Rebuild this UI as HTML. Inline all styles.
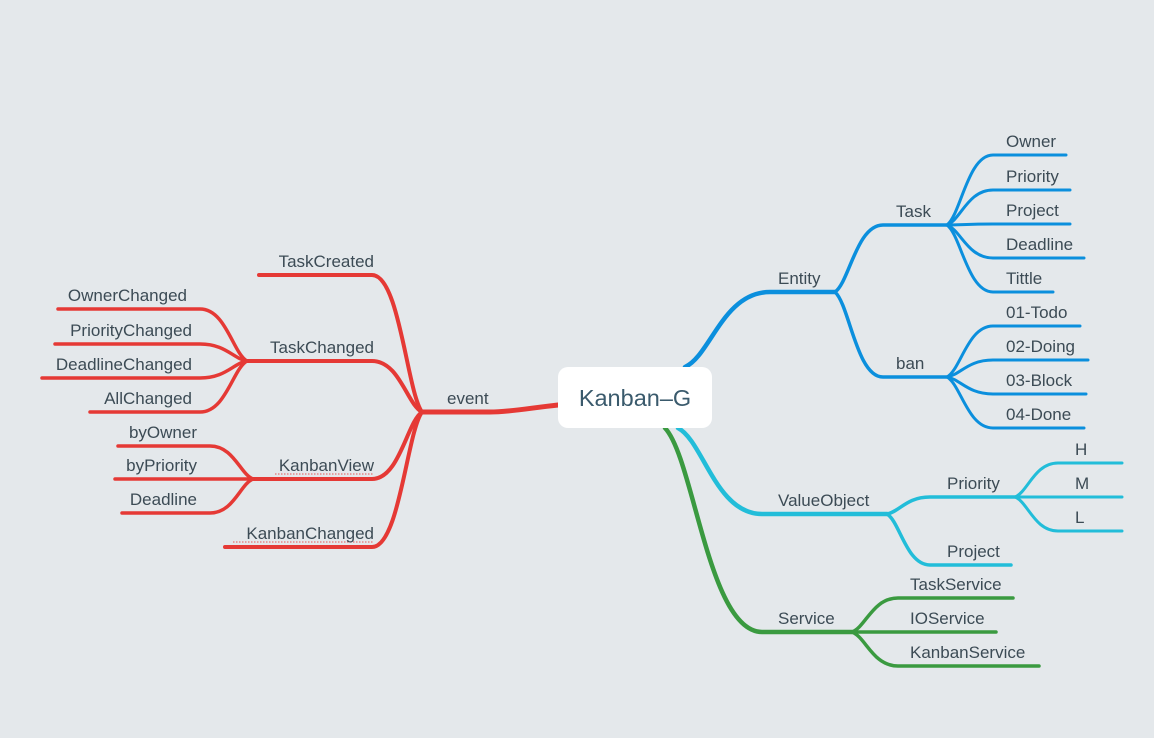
<!DOCTYPE html>
<html><head><meta charset="utf-8"><style>
html,body{margin:0;padding:0;background:#e4e8eb;}
svg{display:block}
text{font-family:"Liberation Sans",sans-serif;font-size:17px;fill:#3c4b55}
</style></head><body>
<svg width="1154" height="738" viewBox="0 0 1154 738" xmlns="http://www.w3.org/2000/svg">
<rect width="1154" height="738" fill="#e4e8eb"/>
<g fill="none" stroke-linecap="round">
<g stroke="#0b8fdd">
<path stroke-width="4.5" d="M685 367 C710.5 355.75 723 292 770 292 L835 292"/>
<path stroke-width="3.5" d="M835 292 C849.4 282 856.6 225 883 225 L947 225"/>
<path stroke-width="3.5" d="M835 292 C849.4 304.75 856.6 377 883 377 L947 377"/>
<g stroke-width="3">
<path d="M947 225 C960.8 214.5 967.7 155 993 155 L1066 155"/>
<path d="M947 225 C960.8 219.75 967.7 190 993 190 L1070 190"/>
<path d="M947 225 C960.8 225 967.7 224 993 224 L1070 224"/>
<path d="M947 225 C960.8 230 967.7 258 993 258 L1084 258"/>
<path d="M947 225 C960.8 235 967.7 292 993 292 L1053 292"/>
<path d="M947 377 C960.8 369.35 967.7 326 993 326 L1080 326"/>
<path d="M947 377 C960.8 374.45 967.7 360 993 360 L1088 360"/>
<path d="M947 377 C960.8 379.55 967.7 394 993 394 L1086 394"/>
<path d="M947 377 C960.8 384.65 967.7 428 993 428 L1084 428"/>
</g></g>
<g stroke="#22bdd9">
<path stroke-width="4.5" d="M678 428 C703.2 440.9 715.8 514 762 514 L887 514"/>
<path stroke-width="3.5" d="M887 514 C899.9 511.45 906.35 497 930 497 L1015 497"/>
<path stroke-width="3.5" d="M887 514 C899.9 521.65 906.35 565 930 565 L1011 565"/>
<g stroke-width="3">
<path d="M1015 497 C1027.9 491.9 1034.35 463 1058 463 L1122 463"/>
<path d="M1015 497 L1122 497"/>
<path d="M1015 497 C1027.9 502.1 1034.35 531 1058 531 L1122 531"/>
</g></g>
<g stroke="#3a9a40">
<path stroke-width="4.5" d="M665 428 C694.1 458.6 708.65 632 762 632 L852 632"/>
<g stroke-width="3.5">
<path d="M852 632 C865.8 626.9 872.7 598 898 598 L1013 598"/>
<path d="M852 632 L996 632"/>
<path d="M852 632 C865.8 637.1 872.7 666 898 666 L1039 666"/>
</g></g>
<g stroke="#e53935">
<path stroke-width="5" d="M558 405 C530 408 510 412 490 412 L422 412"/>
<g stroke-width="4">
<path d="M422 412 C407 391.45 399.5 275 372 275 L259 275"/>
<path d="M422 412 C407 404.35 399.5 361 372 361 L247 361"/>
<path d="M422 412 C407 422 399.5 479 372 479 L253 479"/>
<path d="M422 412 C407 432.25 399.5 547 372 547 L225 547"/>
</g>
<g stroke-width="3.5">
<path d="M247 361 C232.9 353.2 225.85 309 200 309 L58 309"/>
<path d="M247 361 C232.9 358.45 225.85 344 200 344 L55 344"/>
<path d="M247 361 C232.9 363.55 225.85 378 200 378 L42 378"/>
<path d="M247 361 C232.9 368.65 225.85 412 200 412 L90 412"/>
<path d="M253 479 C240.1 474.05 233.65 446 210 446 L118 446"/>
<path d="M253 479 L115 479"/>
<path d="M253 479 C240.1 484.1 233.65 513 210 513 L122 513"/>
</g></g>
</g>
<line x1="275" y1="474" x2="374" y2="474" stroke="#e57373" stroke-width="1.2" stroke-dasharray="1.5 1.5"/>
<line x1="233" y1="542" x2="374" y2="542" stroke="#e57373" stroke-width="1.2" stroke-dasharray="1.5 1.5"/>
<rect x="558" y="367" width="154" height="61" rx="10" fill="#fff"/>
<text x="635" y="406" text-anchor="middle" style="font-size:23.5px;fill:#3a5a6c">Kanban–G</text>
<text x="778" y="284">Entity</text>
<text x="896" y="217">Task</text>
<text x="896" y="369">ban</text>
<text x="1006" y="147">Owner</text>
<text x="1006" y="182">Priority</text>
<text x="1006" y="216">Project</text>
<text x="1006" y="250">Deadline</text>
<text x="1006" y="284">Tittle</text>
<text x="1006" y="318">01-Todo</text>
<text x="1006" y="352">02-Doing</text>
<text x="1006" y="386">03-Block</text>
<text x="1006" y="420">04-Done</text>
<text x="778" y="506">ValueObject</text>
<text x="947" y="489">Priority</text>
<text x="947" y="557">Project</text>
<text x="1075" y="455">H</text>
<text x="1075" y="489">M</text>
<text x="1075" y="523">L</text>
<text x="778" y="624">Service</text>
<text x="910" y="590">TaskService</text>
<text x="910" y="624">IOService</text>
<text x="910" y="658">KanbanService</text>
<text x="447" y="404">event</text>
<g text-anchor="end">
<text x="374" y="267">TaskCreated</text>
<text x="374" y="353">TaskChanged</text>
<text x="374" y="471">KanbanView</text>
<text x="374" y="539">KanbanChanged</text>
<text x="187" y="301">OwnerChanged</text>
<text x="192" y="336">PriorityChanged</text>
<text x="192" y="370">DeadlineChanged</text>
<text x="192" y="404">AllChanged</text>
<text x="197" y="438">byOwner</text>
<text x="197" y="471">byPriority</text>
<text x="197" y="505">Deadline</text>
</g>
</svg>
</body></html>
